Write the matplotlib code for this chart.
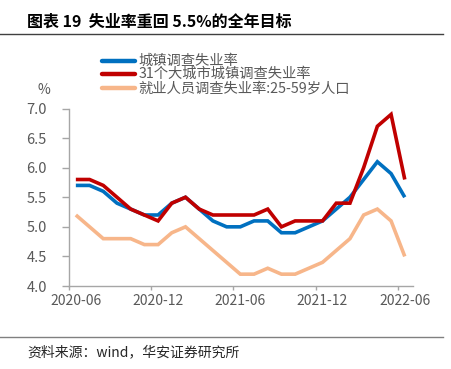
import matplotlib
matplotlib.use("Agg")
import matplotlib.pyplot as plt
from matplotlib.lines import Line2D

plt.rcParams['font.family'] = ['Noto Sans CJK SC', 'DejaVu Sans']

months = ['2020-06', '2020-07', '2020-08', '2020-09', '2020-10', '2020-11', '2020-12',
          '2021-01', '2021-02', '2021-03', '2021-04', '2021-05', '2021-06',
          '2021-07', '2021-08', '2021-09', '2021-10', '2021-11', '2021-12',
          '2022-01', '2022-02', '2022-03', '2022-04', '2022-05', '2022-06']
urban = [5.7, 5.7, 5.6, 5.4, 5.3, 5.2, 5.2, 5.4, 5.5, 5.3, 5.1, 5.0, 5.0,
         5.1, 5.1, 4.9, 4.9, 5.0, 5.1, 5.3, 5.5, 5.8, 6.1, 5.9, 5.5]
city31 = [5.8, 5.8, 5.7, 5.5, 5.3, 5.2, 5.1, 5.4, 5.5, 5.3, 5.2, 5.2, 5.2,
          5.2, 5.3, 5.0, 5.1, 5.1, 5.1, 5.4, 5.4, 6.0, 6.7, 6.9, 5.8]
age2559 = [5.2, 5.0, 4.8, 4.8, 4.8, 4.7, 4.7, 4.9, 5.0, 4.8, 4.6, 4.4, 4.2,
           4.2, 4.3, 4.2, 4.2, 4.3, 4.4, 4.6, 4.8, 5.2, 5.3, 5.1, 4.5]
series_names = ['城镇调查失业率', '31个大城市城镇调查失业率', '就业人员调查失业率:25-59岁人口']
series_colors = ['#0070C0', '#C00000', '#F7B68A']
tick_labels = ['2020-06', '2020-12', '2021-06', '2021-12', '2022-06']
yticks = [4.0, 4.5, 5.0, 5.5, 6.0, 6.5, 7.0]

W, H = 452, 369
fig = plt.figure(figsize=(W / 100, H / 100), dpi=100)

def fx(px):
    return px / W

def fy(py):
    return 1 - py / H

ax = fig.add_axes([fx(69), fy(286), fx(413) - fx(69), fy(108.5) - fy(286)])

x = list(range(len(months)))
for vals, name, col in zip([urban, city31, age2559], series_names, series_colors):
    ax.plot(x, vals, color=col, lw=2.6, solid_joinstyle='miter', solid_capstyle='butt', label=name)

ax.set_xlim(-0.5, len(months) - 0.4)
ax.set_ylim(4.0, 7.0)

gray_spine = '#A6A6A6'
label_col = '#595959'
for s in ['top', 'right']:
    ax.spines[s].set_visible(False)
for s in ['left', 'bottom']:
    ax.spines[s].set_color(gray_spine)
    ax.spines[s].set_linewidth(1.0)

ax.set_yticks(yticks)
ax.set_yticklabels([f'{v:.1f}' for v in yticks])
ax.tick_params(axis='y', direction='out', length=5, width=1, color=gray_spine,
               labelsize=10.5, labelcolor=label_col, pad=11)

# category axis: ticks at category boundaries, labels at category centres
label_idx = [months.index(m) for m in tick_labels]
ax.set_xticks([i - 0.5 for i in label_idx])
ax.set_xticklabels([''] * len(label_idx))
ax.set_xticks(label_idx, minor=True)
ax.set_xticklabels(tick_labels, minor=True)
ax.tick_params(axis='x', which='major', direction='out', length=3, width=1, color=gray_spine)
ax.tick_params(axis='x', which='minor', length=0, labelsize=10, labelcolor=label_col, pad=6)

# y unit label
fig.text(fx(44), fy(90), '%', fontsize=10, color=label_col, ha='center', va='center')

# legend (manual)
leg_y = [61, 74.3, 88.3]
for yy, name, col in zip(leg_y, series_names, series_colors):
    fig.add_artist(Line2D([fx(101.7), fx(135)], [fy(yy), fy(yy)], color=col, lw=3.2,
                          solid_capstyle='round'))
    fig.text(fx(138.5), fy(yy), name, fontsize=10.3, color=label_col, ha='left', va='center')

# title and rules
fig.text(fx(27), fy(21.5), '图表 19  失业率重回 5.5%的全年目标', fontsize=11.5,
         fontweight='bold', color='#000000', ha='left', va='center')
fig.add_artist(Line2D([0, fx(443)], [fy(33.5), fy(33.5)], color='#404040', lw=1.0))
fig.add_artist(Line2D([0, fx(443)], [fy(337), fy(337)], color='#808080', lw=1.0))
fig.text(fx(27), fy(352), '资料来源：wind，华安证券研究所', fontsize=10,
         color='#262626', ha='left', va='center')

fig.savefig('out.png', dpi=100)
